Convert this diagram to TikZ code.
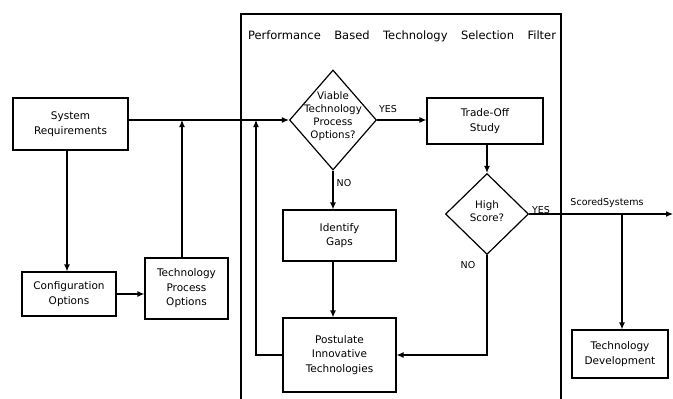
\documentclass[tikz,border=0pt]{standalone}
\usepackage{fontspec}
\setmainfont{DejaVu Sans}
\usetikzlibrary{shapes.geometric,arrows.meta}
\begin{document}
\begin{tikzpicture}[x=1pt,y=-1pt,
  line width=1.2pt,
  box/.style={draw,rectangle,inner sep=0pt,align=center,
    font=\fontsize{10.5}{14.5}\selectfont},
  decision/.style={draw,diamond,inner sep=0pt},
  dtext/.style={align=center,font=\fontsize{10.3}{13}\selectfont},
  tag/.style={font=\fontsize{9.5}{11}\selectfont,inner sep=0pt},
  arr/.style={-{Latex[length=7pt,width=6pt]}}]
\useasboundingbox (0,0) rectangle (673,399);

% filter frame, open at the bottom
\draw (241,399) |- (561,14) -- (561,399);
\node[font=\fontsize{11.5}{13}\selectfont,inner sep=0pt] (title) at (402,36)
  {\makebox[308pt][s]{Performance Based Technology Selection Filter}};

% boxes
\node[box,minimum width=115pt,minimum height=52pt] (sysreq) at (70.5,124) {System\\Requirements};
\node[box,minimum width=94pt,minimum height=44pt] (config) at (69,294) {Configuration\\Options};
\node[box,minimum width=83pt,minimum height=61pt] (tpo) at (186.5,288.5) {Technology\\Process\\Options};
\node[box,minimum width=116pt,minimum height=46pt] (trade) at (485,121) {Trade-Off\\Study};
\node[box,minimum width=113pt,minimum height=51pt] (gaps) at (339.5,235.5) {Identify\\Gaps};
\node[box,minimum width=113pt,minimum height=74pt] (post) at (339.5,355) {Postulate\\Innovative\\Technologies};
\node[box,minimum width=96pt,minimum height=48pt] (techdev) at (620,354) {Technology\\Development};

% decisions
\node[decision,minimum width=87pt,minimum height=100pt] (viable) at (333,120) {};
\node[dtext] (viabletxt) at (333,116.5) {Viable\\Technology\\Process\\Options?};
\node[decision,minimum width=83pt,minimum height=81pt] (high) at (487,214) {};
\node[dtext] (hightxt) at (487,211) {High\\Score?};

% free ends
\coordinate (fb) at (256,120);
\coordinate (out) at (673,214);
\coordinate (branch) at (622,214);

% connectors
\draw[arr] (viable.west -| sysreq.east) -- (viable.west);
\draw[arr] (sysreq.south -| 67,0) -- (config.north -| 67,0);
\draw[arr] (config.east) -- (config.east -| tpo.west);
\draw[arr] (tpo.north -| 182,0) -- (viable.west -| 182,0);
\draw[arr] (viable.east) -- (viable.east -| trade.west);
\draw[arr] (viable.south) -- (viable.south |- gaps.north);
\draw[arr] (gaps.south -| viable.south) -- (post.north -| viable.south);
\draw[arr] (trade.south -| high.north) -- (high.north);
\draw[arr] (high.east) -- (out);
\draw[arr] (branch) -- (branch |- techdev.north);
\draw[arr] (high.south) |- (post.east);
\draw[arr] (post.west) -| (fb);

% branch labels
\node[tag] (yes1) at (388,109) {YES};
\node[tag] (no1) at (344,183) {NO};
\node[tag] (yes2) at (541,210) {YES};
\node[tag] (no2) at (468,265) {NO};
\node[tag] (scored) at (607,203) {ScoredSystems};
\end{tikzpicture}
\end{document}
